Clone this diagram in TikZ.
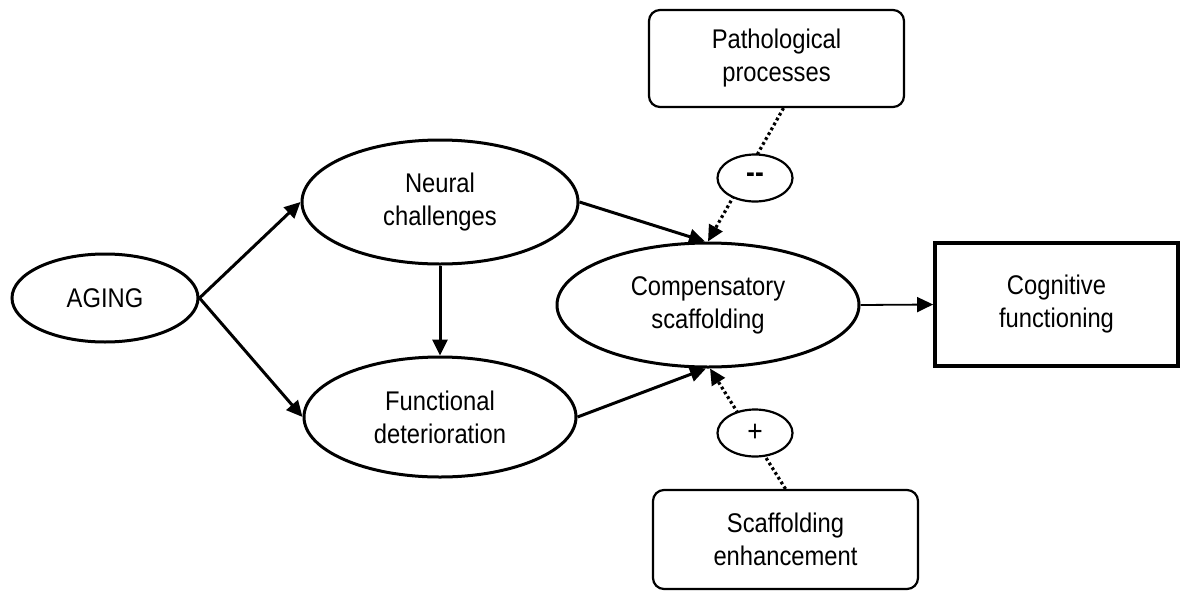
\documentclass[tikz,border=0pt]{standalone}
\usepackage{fontspec}
\setmainfont{Liberation Sans}[FakeStretch=0.88]
\usetikzlibrary{shapes.geometric,arrows.meta,calc}

\begin{document}
\begin{tikzpicture}[x=1pt,y=-1pt,
  txt/.style={font=\fontsize{27}{33}\selectfont, align=center},
  oval/.style={ellipse, draw, line width=3pt, inner sep=0pt, txt},
  sign/.style={ellipse, draw, fill=white, line width=2.2pt, inner sep=0pt,
    minimum width=75pt, minimum height=47pt, font=\fontsize{30}{32}\selectfont},
  sourcebox/.style={rectangle, rounded corners=11pt, draw, line width=2.2pt,
    inner sep=0pt, txt},
  outbox/.style={rectangle, draw, line width=3.8pt, inner sep=0pt, txt},
  tip/.style={-{Triangle[length=16pt,width=15pt]}},
  link/.style={line width=3pt, tip},
  thinlink/.style={line width=1.8pt, tip},
  modlink/.style={line width=3.2pt, dash pattern=on 2.8pt off 2.8pt, tip}
]
\useasboundingbox (0,0) rectangle (1181,592);

% constructs
\node[oval, minimum width=186pt, minimum height=88pt] (aging) at (105,298) {AGING};
\node[oval, minimum width=276pt, minimum height=124pt] (neural) at (440,202) {Neural\\challenges};
\node[oval, minimum width=272pt, minimum height=120pt] (func) at (440,417) {Functional\\deterioration};
\node[oval, minimum width=302pt, minimum height=124pt] (comp) at (708,305) {Compensatory\\scaffolding};
\node[outbox, minimum width=243pt, minimum height=123pt] (cog) at (1056.5,304.5) {Cognitive\\functioning};

% moderators
\node[sourcebox, minimum width=255pt, minimum height=97pt] (path) at (776.5,58.5) {Pathological\\processes};
\node[sourcebox, minimum width=265pt, minimum height=99pt] (scaff) at (785.5,539.5) {Scaffolding\\enhancement};

% pathways
\draw[link] (aging.east) -- (neural.west);
\draw[link] (aging.east) -- (func.west);
\draw[link] (neural.south) -- (func.north);
\draw[link] (neural.east) -- ([xshift=-3pt]comp.north);
\draw[link] (func.east) -- ([xshift=-2pt]comp.south);
\draw[thinlink] (comp.east) -- (cog.west);

% moderating influences
\draw[modlink] ([xshift=7pt]path.south) -- (comp.north);
\draw[modlink] (scaff.north) -- ([xshift=2pt]comp.south);
\node[sign] (minus) at (755,178) {\textbf{-{}-}};
\node[sign] (plus) at (755,433) {+};
\end{tikzpicture}
\end{document}
